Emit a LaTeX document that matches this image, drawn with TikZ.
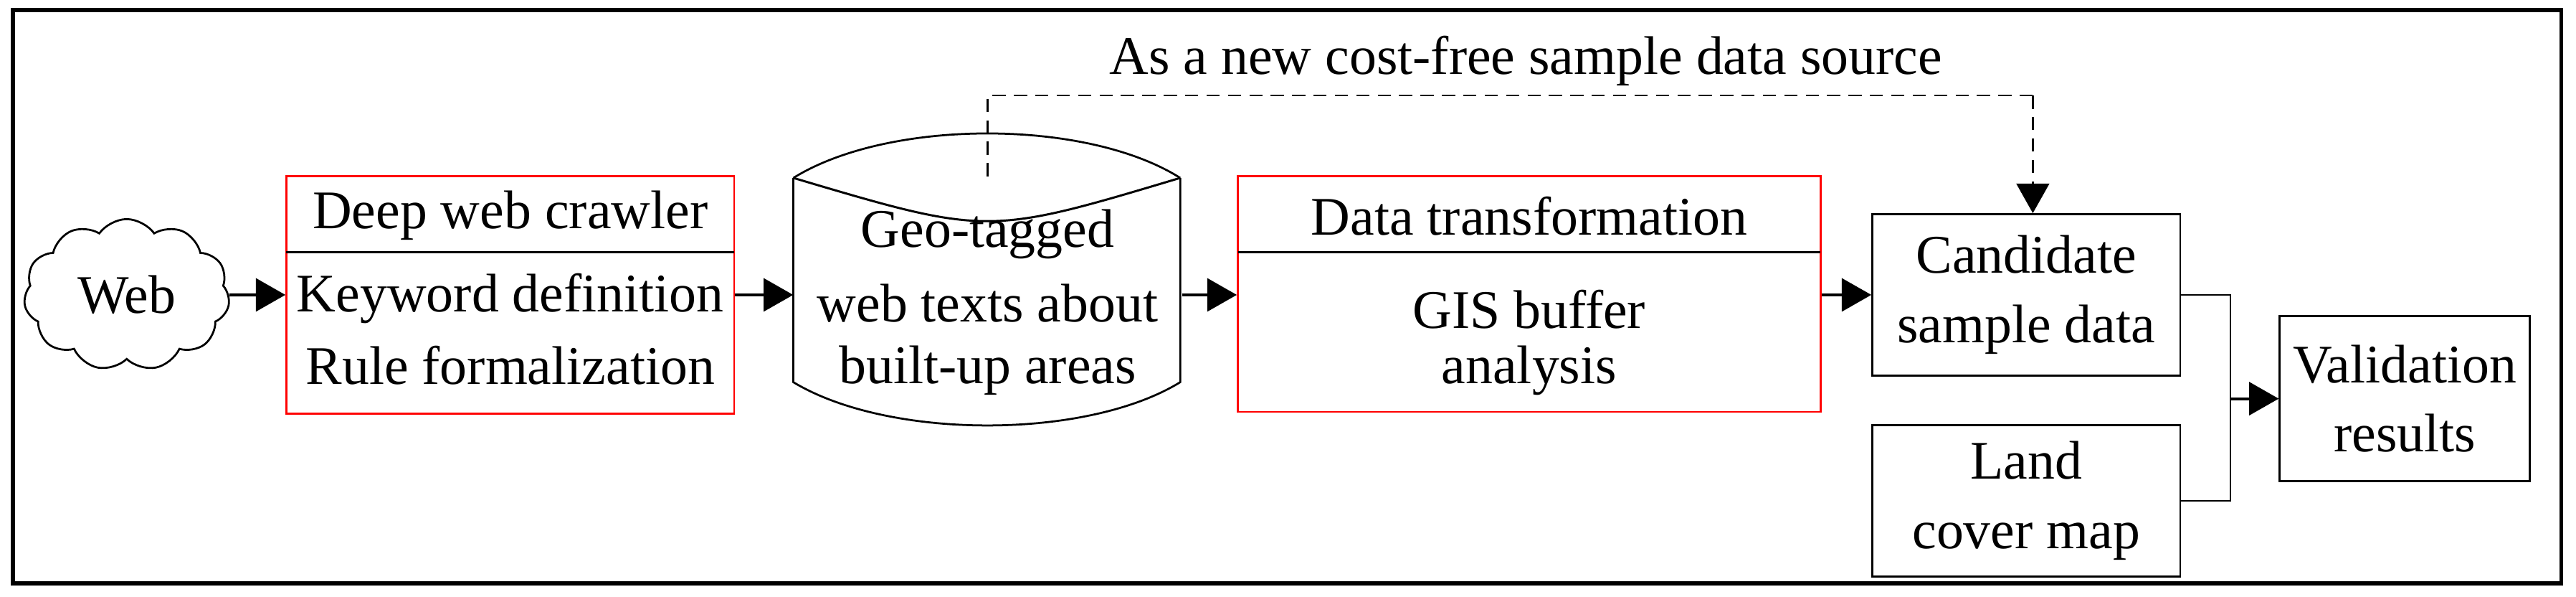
\documentclass[tikz,border=0pt]{standalone}
\usepackage{fontspec}
\setmainfont{Liberation Serif}
\usetikzlibrary{shapes.symbols,arrows.meta}
\begin{document}
\begin{tikzpicture}[x=1pt,y=-1pt,line width=1.2pt,
  txt/.style={font=\fontsize{33}{36}\selectfont,inner sep=0pt},
  redbox/.style={draw=red,line width=1.2pt},
  blkbox/.style={draw=black,line width=1.2pt,align=center,font=\fontsize{33}{42}\selectfont},
  arr/.style={-{Triangle[length=18pt,width=20pt]},line width=1.8pt}]
\useasboundingbox (0,0) rectangle (1565,362);
\draw[line width=2.5pt] (8,6) rectangle (1556,354);
% Web cloud
\node[cloud,draw,cloud puffs=11,cloud puff arc=110,aspect=1.2,minimum width=125pt,minimum height=92pt,txt] (web) at (77,179) {Web};
% Red box 1
\draw[redbox] (174,107) rectangle (446,251);
\node[draw=none,minimum width=272pt,minimum height=144pt] (crawl) at (310,179) {};
\draw[line width=1.5pt] (174,153) -- (446,153);
\node[txt] (t1) at (310,131) {Deep web crawler};
\node[txt] (t2) at (310,181) {Keyword definition};
\node[txt] (t3) at (310,222) {Rule formalization};
% Cylinder-like shape
\draw (482,108) .. controls (540,72) and (660,72) .. (717,108);
\draw[line width=1.3pt] (482,108) .. controls (600,143) .. (717,108);
\draw (482,108) -- (482,232) .. controls (540,267) and (660,267) .. (717,232) -- (717,108);
\node[draw=none,minimum width=235pt,minimum height=124pt] (geo) at (600,179) {};
\node[txt] (g1) at (600,142) {Geo-tagged};
\node[txt] (g2) at (600,184) {web texts about};
\node[txt] (g3) at (600,225) {built-up areas};
\coordinate (geotop) at (600,107);
% Red box 2
\draw[redbox] (752,107) rectangle (1106,250);
\node[draw=none,minimum width=354pt,minimum height=143pt] (trans) at (929,179) {};
\draw[line width=1.5pt] (752,153) -- (1106,153);
\node[txt] (d1) at (929,131) {Data transformation};
\node[txt] (d2) at (929,188) {GIS buffer};
\node[txt] (d3) at (929,225) {analysis};
% Right boxes
\node[blkbox,minimum width=187pt,minimum height=98pt] (cand) at (1231,179) {Candidate\\sample data};
\node[blkbox,minimum width=187pt,minimum height=92pt] (land) at (1231,304) {Land\\cover map};
\node[blkbox,minimum width=152pt,minimum height=100pt] (valid) at (1461,242) {Validation\\results};
% arrows
\draw[arr] (web.east) -- (crawl.west);
\draw[arr] (crawl.east) -- (geo.west);
\draw[arr] (geo.east) -- (trans.west);
\draw[arr] (trans.east) -- (cand.west);
\coordinate (jn) at (1355,242);
\draw (cand.east) -| (jn);
\draw (land.east) -| (jn);
\draw[arr] (jn) -- (valid.west);
% dashed feedback
\coordinate (dtop1) at (600,58);
\coordinate (dtop2) at (1235,58);
\draw[dashed,dash pattern=on 8pt off 5pt,line width=1pt] (geotop) -- (dtop1) -- (dtop2);
\draw[-{Triangle[length=18pt,width=20pt]},line width=1pt,dash pattern=on 8pt off 5pt] (dtop2) -- (cand.north -| dtop2);
\node[txt] (lbl) at (927,37) {As a new cost-free sample data source};
\end{tikzpicture}
\end{document}
